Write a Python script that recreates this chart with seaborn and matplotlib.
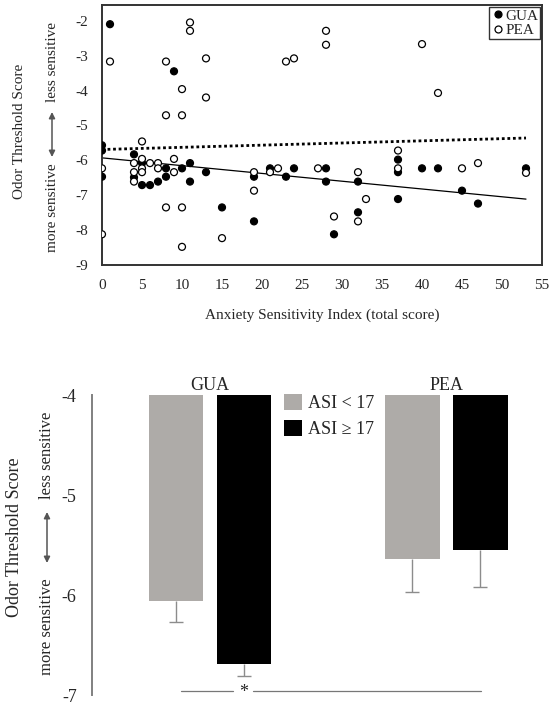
import numpy as np
import pandas as pd
import seaborn as sns
from matplotlib import pyplot as plt

sns.set_theme(style='white')
plt.rcParams['font.family'] = ['Liberation Serif', 'DejaVu Serif']
plt.rcParams['axes.unicode_minus'] = False

# --- scatter data (ASI total score vs odor threshold score) ---
gua_asi = [1, 9, 0, 0, 0, 4, 4, 5, 5, 6, 7, 8, 8, 10, 11, 11, 13, 15,
           19, 19, 21, 23, 24, 28, 28, 29, 32, 32, 37, 37, 37, 40, 42, 45, 47, 53]
gua_score = [-2.1, -3.45, -5.57, -5.72, -6.47, -5.83, -6.49, -6.08, -6.71, -6.71,
             -6.61, -6.23, -6.47, -6.23, -6.08, -6.61, -6.34, -7.35,
             -6.47, -7.75, -6.23, -6.47, -6.23, -6.23, -6.61, -8.12, -6.61, -7.49,
             -5.98, -6.34, -7.11, -6.23, -6.23, -6.87, -7.24, -6.23]
pea_asi = [1, 11, 11, 8, 13, 10, 13, 8, 10, 5, 0, 0, 4, 4, 4, 5, 5, 5, 6, 7, 7,
           9, 9, 8, 10, 10, 15, 28, 28, 23, 24, 19, 19, 21, 22, 27, 29, 32, 32,
           33, 37, 37, 40, 42, 45, 47, 53]
pea_score = [-3.17, -2.05, -2.29, -3.17, -3.08, -3.96, -4.2, -4.71, -4.71, -5.46,
             -6.23, -8.12, -6.08, -6.34, -6.61, -5.96, -6.23, -6.34, -6.08, -6.08,
             -6.23, -5.96, -6.34, -7.35, -7.35, -8.48, -8.23, -2.29, -2.69, -3.17,
             -3.08, -6.34, -6.87, -6.34, -6.23, -6.23, -7.61, -6.34, -7.75, -7.11,
             -5.72, -6.23, -2.67, -4.07, -6.23, -6.08, -6.36]

# regression lines as shown (intercept, slope)
gua_fit = (-5.93, -0.0223)
pea_fit = (-5.69, 0.0062)
fit_range = [0, 53]

# --- bar data (group means and SEM) ---
odors = ['GUA', 'GUA', 'PEA', 'PEA']
asi_groups = ['ASI < 17', 'ASI \u2265 17', 'ASI < 17', 'ASI \u2265 17']
mean_scores = [-6.06, -6.69, -5.64, -5.55]
sem_scores = [0.21, 0.12, 0.33, 0.37]

W, H = 555, 708
fig = plt.figure(figsize=(W / 100, H / 100), dpi=100)


def fx(px):
    return px / W


def fy(py):
    return 1 - py / H


def side_label(x, y_main, x2, y_more, y_less, y_arr, size_main, size_sub):
    fig.text(fx(x), fy(y_main), 'Odor Threshold Score', rotation=90,
             ha='center', va='center', fontsize=size_main)
    fig.text(fx(x2), fy(y_more), 'more sensitive', rotation=90,
             ha='center', va='center', fontsize=size_sub)
    fig.text(fx(x2), fy(y_less), 'less sensitive', rotation=90,
             ha='center', va='center', fontsize=size_sub)
    fig.add_artist(plt.Annotation(
        '', xy=(fx(x2), fy(y_arr[1])), xytext=(fx(x2), fy(y_arr[0])),
        xycoords='figure fraction',
        arrowprops=dict(arrowstyle='<|-|>', color='#555555', lw=1.1,
                        mutation_scale=9, shrinkA=0, shrinkB=0)))


# ---------------- top: scatter ----------------
ax1 = fig.add_axes([fx(102), fy(265), fx(542) - fx(102), fy(5) - fy(265)])
scatter_df = pd.concat([
    pd.DataFrame({'asi': gua_asi, 'score': gua_score, 'odor': 'GUA'}),
    pd.DataFrame({'asi': pea_asi, 'score': pea_score, 'odor': 'PEA'}),
])
sns.scatterplot(data=scatter_df, x='asi', y='score', hue='odor',
                palette={'GUA': 'black', 'PEA': 'white'}, edgecolor='black',
                linewidth=0.9, s=25, ax=ax1, zorder=3)

xs = np.array(fit_range)
ax1.plot(xs, gua_fit[0] + gua_fit[1] * xs, color='black', lw=0.9, zorder=2)
ax1.plot(xs, pea_fit[0] + pea_fit[1] * xs, color='black', lw=2,
         linestyle=(0, (1, 1)), zorder=2)

ax1.set_xlim(0, 55)
ax1.set_ylim(-9, -1.55)
ax1.set_xticks(range(0, 56, 5))
ax1.set_yticks(range(-9, -1))
ax1.tick_params(length=0, labelsize=11)
ax1.tick_params(axis='y', pad=10)
ax1.tick_params(axis='x', pad=10)
ax1.set_xlabel('Anxiety Sensitivity Index (total score)', fontsize=11, labelpad=12)
ax1.set_ylabel('')
for sp in ax1.spines.values():
    sp.set_color('#333333')
    sp.set_linewidth(1.4)

leg = ax1.legend(loc='upper right', fontsize=11, frameon=True, fancybox=False,
                 handletextpad=0.0, handlelength=0.9, borderpad=0.15,
                 labelspacing=0.05, borderaxespad=0.1, markerscale=1.0)
leg.get_frame().set_edgecolor('black')
leg.get_frame().set_linewidth(1.0)

side_label(20, 131, 52, 208, 62, (157, 112), 11, 11)

# ---------------- bottom: bars ----------------
ax2 = fig.add_axes([fx(92), fy(695), 1 - fx(92), fy(395) - fy(695)])
bar_df = pd.DataFrame({'odor': odors, 'group': asi_groups, 'score': mean_scores,
                       'sem': sem_scores})
hue_order = ['ASI < 17', 'ASI \u2265 17']
sns.barplot(data=bar_df, x='odor', y='score', hue='group', hue_order=hue_order,
            palette=['#aeaba8', 'black'], saturation=1, width=0.576, gap=0.2,
            errorbar=None, linewidth=0, ax=ax2)

# lower-half error bars only
cap = 0.03
for level, cont in zip(hue_order, ax2.containers):
    sub = bar_df[bar_df['group'] == level]
    for bar, err in zip(cont, sub['sem']):
        xc = bar.get_x() + bar.get_width() / 2
        yb = bar.get_y() + bar.get_height()
        ax2.vlines(xc, yb - err, yb, color='#8c8c8c', lw=1, zorder=1)
        ax2.hlines(yb - err, xc - cap, xc + cap, color='#8c8c8c', lw=1, zorder=1)

ax2.set_ylim(-7, -4)
ax2.set_xlim(-0.5, 1.46)
ax2.set_yticks([-7, -6, -5, -4])
ax2.xaxis.set_ticks_position('top')
ax2.tick_params(length=0, labelsize=13)
ax2.tick_params(axis='y', pad=11)
ax2.tick_params(axis='x', pad=1)
ax2.set_xlabel('')
ax2.set_ylabel('')
for name, sp in ax2.spines.items():
    sp.set_visible(name == 'left')
ax2.spines['left'].set_color('#808080')
ax2.spines['left'].set_linewidth(1.4)

ax2.legend(loc='upper left', bbox_to_anchor=(0.415, 1.005), frameon=False,
           fontsize=13, handlelength=1.0, handleheight=1.0, handletextpad=0.3,
           labelspacing=0.45, borderpad=0, borderaxespad=0)

# significance marker
sig_y = -6.957
ax2.plot([-0.123, 0.097], [sig_y, sig_y], color='#777777', lw=0.9, clip_on=False)
ax2.plot([0.182, 1.148], [sig_y, sig_y], color='#777777', lw=0.9, clip_on=False)
ax2.text(0.14, -6.975, '*', ha='center', va='center', fontsize=13, clip_on=False)

side_label(15, 537, 47, 627, 455, (563, 512), 13, 12)

fig.savefig('out.png', dpi=100)
